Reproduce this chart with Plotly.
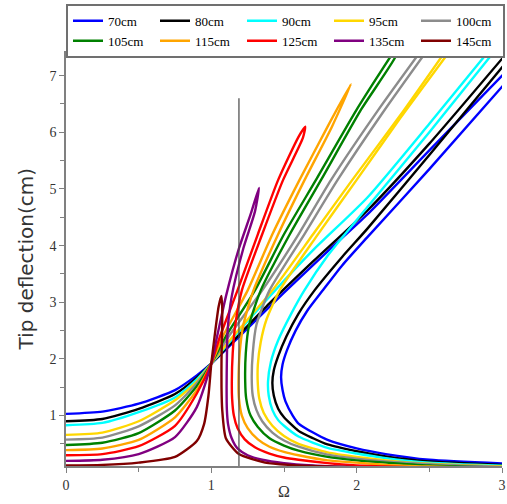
import plotly.graph_objects as go

labels = ["70cm", "80cm", "90cm", "95cm", "100cm", "105cm", "115cm", "125cm", "135cm", "145cm"]
colors = ["#0000FF", "#000000", "#00FFFF", "#FFD700", "#8C8C8C",
          "#008000", "#FFA500", "#FF0000", "#800080", "#800000"]

# Omega / tip deflection (in-phase branch up, then out-of-phase branch down)
omega_70 = [0, 0.25, 0.5, 0.75, 0.9, 1.0, 1.19, 1.5, 1.8, 2.074, 2.5, 3.05, None,
            3.05, 2.5, 2.074, 1.9, 1.77, 1.66, 1.58, 1.52, 1.49, 1.48, 1.49, 1.51, 1.56, 1.6, 1.7, 1.8, 2.0, 2.2, 2.5, 3.0]
defl_70 = [1.03, 1.07, 1.21, 1.45, 1.71, 1.92, 2.39, 3.17, 3.9, 4.55, 5.68, 7.13, None,
           6.95, 5.35, 4.15, 3.65, 3.22, 2.85, 2.5, 2.15, 1.9, 1.68, 1.45, 1.25, 1.0, 0.86, 0.7, 0.57, 0.42, 0.32, 0.22, 0.155]

omega_80 = [0, 0.25, 0.5, 0.75, 0.9, 1.0, 1.2, 1.4, 1.7, 2.074, 2.5, 3.05, None,
            3.05, 2.5, 2.074, 1.9, 1.71, 1.6, 1.517, 1.46, 1.43, 1.42, 1.43, 1.46, 1.5, 1.6, 1.7, 1.8, 2.0, 2.2, 2.5, 3.0]
defl_80 = [0.90, 0.94, 1.12, 1.38, 1.67, 1.92, 2.45, 2.98, 3.72, 4.62, 5.8, 7.45, None,
           7.3, 5.6, 4.3, 3.8, 3.21, 2.8, 2.4, 2.05, 1.8, 1.58, 1.35, 1.12, 0.97, 0.73, 0.6, 0.49, 0.37, 0.28, 0.19, 0.13]

omega_90 = [0, 0.25, 0.5, 0.75, 0.9, 1.0, 1.2, 1.4, 1.7, 2.074, 2.5, 2.93, None,
            2.97, 2.5, 2.074, 1.8, 1.64, 1.55, 1.46, 1.41, 1.39, 1.395, 1.42, 1.46, 1.5, 1.6, 1.8, 2.0, 2.2, 2.5, 3.0]
defl_90 = [0.83, 0.87, 1.06, 1.32, 1.64, 1.92, 2.52, 3.1, 3.92, 4.85, 6.15, 7.5, None,
           7.5, 6.0, 4.68, 3.82, 3.21, 2.8, 2.33, 1.95, 1.6, 1.35, 1.1, 0.92, 0.82, 0.63, 0.43, 0.33, 0.25, 0.17, 0.115]

omega_95 = [0, 0.25, 0.5, 0.75, 0.9, 1.0, 1.15, 1.42, 1.7, 1.97, 2.3, 2.63, None,
            2.66, 2.3, 2.0, 1.72, 1.47, 1.38, 1.34, 1.32, 1.32, 1.33, 1.36, 1.42, 1.5, 1.6, 1.8, 2.0, 2.2, 2.5, 3.0]
defl_95 = [0.66, 0.70, 0.90, 1.27, 1.6, 1.92, 2.4, 3.21, 4.2, 5.16, 6.3, 7.5, None,
           7.5, 6.25, 5.16, 4.15, 3.21, 2.7, 2.3, 1.9, 1.55, 1.3, 1.05, 0.82, 0.64, 0.5, 0.35, 0.27, 0.21, 0.15, 0.1]

omega_100 = [0, 0.25, 0.5, 0.75, 0.9, 1.0, 1.12, 1.35, 1.6, 1.824, 2.15, 2.46, None,
             2.5, 2.18, 1.869, 1.64, 1.40, 1.31, 1.285, 1.278, 1.285, 1.31, 1.35, 1.42, 1.5, 1.6, 1.8, 2.0, 2.2, 2.5, 3.0]
defl_100 = [0.575, 0.61, 0.81, 1.18, 1.57, 1.92, 2.4, 3.21, 4.2, 5.16, 6.4, 7.5, None,
            7.5, 6.35, 5.16, 4.2, 3.21, 2.6, 2.1, 1.65, 1.35, 1.1, 0.9, 0.7, 0.56, 0.45, 0.31, 0.24, 0.19, 0.14, 0.09]

omega_105 = [0, 0.25, 0.5, 0.75, 0.9, 1.0, 1.1, 1.3, 1.5, 1.72, 2.0, 2.25, 2.27,
             2.28, 2.03, 1.755, 1.54, 1.34, 1.26, 1.237, 1.233, 1.24, 1.27, 1.32, 1.4, 1.5, 1.6, 1.8, 2.0, 2.2, 2.5, 3.0]
defl_105 = [0.48, 0.52, 0.69, 1.09, 1.52, 1.92, 2.4, 3.21, 4.2, 5.16, 6.4, 7.4, 7.46,
            7.4, 6.4, 5.16, 4.2, 3.21, 2.6, 2.1, 1.6, 1.3, 1.0, 0.8, 0.6, 0.47, 0.38, 0.27, 0.21, 0.17, 0.12, 0.08]

omega_115 = [0, 0.25, 0.5, 0.75, 0.9, 1.0, 1.08, 1.25, 1.42, 1.607, 1.8, 1.96,
             1.83, 1.642, 1.46, 1.29, 1.22, 1.195, 1.187, 1.19, 1.21, 1.25, 1.32, 1.4, 1.5, 1.6, 1.8, 2.0, 2.2, 2.5, 3.0]
defl_115 = [0.39, 0.42, 0.57, 0.97, 1.45, 1.92, 2.4, 3.21, 4.2, 5.16, 6.1, 6.85,
            6.1, 5.16, 4.2, 3.21, 2.6, 2.1, 1.6, 1.3, 1.0, 0.78, 0.58, 0.45, 0.36, 0.3, 0.21, 0.17, 0.13, 0.1, 0.07]

omega_125 = [0, 0.25, 0.5, 0.75, 0.9, 1.0, 1.06, 1.18, 1.32, 1.46, 1.6, 1.646,
             1.63, 1.494, 1.35, 1.21, 1.165, 1.147, 1.141, 1.143, 1.155, 1.18, 1.23, 1.3, 1.4, 1.5, 1.6, 1.8, 2.0, 2.2, 2.5]
defl_125 = [0.30, 0.32, 0.46, 0.82, 1.39, 1.92, 2.4, 3.21, 4.2, 5.16, 5.92, 6.1,
            5.9, 5.16, 4.2, 3.21, 2.6, 2.1, 1.6, 1.3, 1.0, 0.78, 0.58, 0.44, 0.33, 0.26, 0.22, 0.16, 0.12, 0.1, 0.08]

omega_135 = [0, 0.25, 0.5, 0.75, 0.9, 1.0, 1.04, 1.1, 1.19, 1.27, 1.328,
             1.30, 1.22, 1.14, 1.112, 1.107, 1.105, 1.107, 1.115, 1.14, 1.18, 1.25, 1.35, 1.5, 1.7, 2.0]
defl_135 = [0.20, 0.22, 0.32, 0.62, 1.15, 1.92, 2.4, 3.1, 3.95, 4.55, 5.02,
            4.6, 3.95, 3.1, 2.5, 2.0, 1.5, 1.1, 0.85, 0.6, 0.42, 0.3, 0.22, 0.16, 0.12, 0.09]

omega_145 = [0, 0.25, 0.5, 0.75, 0.9, 0.95, 0.98, 1.0, 1.025, 1.05, 1.069,
             1.075, 1.074, 1.07, 1.07, 1.075, 1.1, 1.19, 1.37, 1.6, 2.0]
defl_145 = [0.12, 0.13, 0.17, 0.27, 0.55, 0.85, 1.35, 1.92, 2.45, 2.92, 3.11,
            2.9, 2.5, 2.0, 1.5, 1.1, 0.6, 0.32, 0.17, 0.12, 0.09]

marker_omega = [1.19, 1.19]
marker_defl = [0.0, 6.6]

omegas = [omega_70, omega_80, omega_90, omega_95, omega_100,
          omega_105, omega_115, omega_125, omega_135, omega_145]
defls = [defl_70, defl_80, defl_90, defl_95, defl_100,
         defl_105, defl_115, defl_125, defl_135, defl_145]

fig = go.Figure()
for lab, col, xs, ys in zip(labels, colors, omegas, defls):
    fig.add_trace(go.Scatter(x=xs, y=ys, mode="lines", name=lab,
                             line=dict(color=col, width=2.4, shape="spline", smoothing=0.6),
                             connectgaps=False))

fig.add_trace(go.Scatter(x=marker_omega, y=marker_defl, mode="lines", showlegend=False,
                         line=dict(color="#444444", width=1.2)))

serif = "Liberation Serif, Times New Roman, serif"
axis_common = dict(showline=True, linecolor="#808080", linewidth=1.5,
                   ticks="outside", tickcolor="#808080", ticklen=5, tickwidth=1,
                   showgrid=False, zeroline=False, ticklabeloverflow="allow",
                   tickfont=dict(family=serif, size=14, color="#333333"))

fig.update_layout(
    width=507, height=504,
    margin=dict(l=66, r=5, t=53, b=38, pad=0, autoexpand=False),
    paper_bgcolor="white", plot_bgcolor="white",
    xaxis=dict(range=[0, 3.0], tickvals=[0, 1, 2, 3], mirror=True,
               minor=dict(dtick=0.5, ticklen=4, tickcolor="#808080", ticks="outside"),
               **axis_common),
    yaxis=dict(range=[0.11, 7.40], tickvals=[1, 2, 3, 4, 5, 6, 7],
               minor=dict(dtick=0.5, tick0=0, ticklen=4, tickcolor="#808080", ticks="outside"),
               **axis_common),
    legend=dict(orientation="h", x=0, xanchor="left", y=1.119, yanchor="top",
                bordercolor="#707070", borderwidth=2, bgcolor="white",
                font=dict(family=serif, size=13, color="black"),
                entrywidth=42, entrywidthmode="pixels", itemwidth=30,
                tracegroupgap=0),
    showlegend=True,
    annotations=[
        dict(text="Tip deflection(cm)", textangle=-90, xref="paper", yref="paper",
             x=-0.094, y=0.5, xanchor="center", yanchor="middle", showarrow=False,
             font=dict(family="DejaVu Sans, sans-serif", size=20, color="#333333")),
        dict(text="Ω", xref="paper", yref="paper", x=0.5, y=-0.088,
             xanchor="center", yanchor="bottom", showarrow=False,
             font=dict(family=serif, size=16, color="#333333")),
    ],
)

fig.write_html("out.html", config={"displayModeBar": False},
               post_script="document.body.style.margin='0';")
